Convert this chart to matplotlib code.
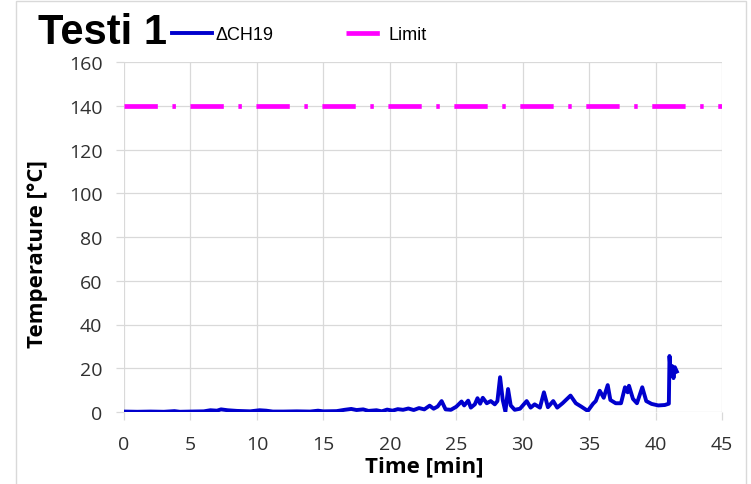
import matplotlib
matplotlib.use("Agg")
import matplotlib.pyplot as plt
from matplotlib.patches import Rectangle

plt.rcParams["font.family"] = ["Open Sans", "DejaVu Sans"]
plt.rcParams["lines.scale_dashes"] = False

time_min = [0.0, 1.0, 2.0, 3.0, 3.8, 4.2, 5.0, 6.0, 6.5, 7.0, 7.3, 7.8, 8.5, 9.5,
            10.2, 10.7, 11.2, 12.0, 13.0, 14.0, 14.6, 15.0, 16.0, 16.6, 17.1, 17.5,
            18.0, 18.4, 19.0, 19.4, 19.8, 20.2, 20.6, 21.0, 21.4, 21.8, 22.2, 22.6,
            23.0, 23.3, 23.6, 23.9, 24.2, 24.6, 25.0, 25.4, 25.6, 25.9, 26.1, 26.4,
            26.6, 26.8, 27.0, 27.3, 27.6, 27.9, 28.1, 28.3, 28.5, 28.7, 28.9, 29.1,
            29.4, 29.8, 30.3, 30.6, 30.9, 31.3, 31.6, 31.9, 32.3, 32.6, 33.0, 33.6,
            34.0, 34.4, 34.9, 35.3, 35.5, 35.8, 36.1, 36.4, 36.6, 37.0, 37.4, 37.7,
            37.9, 38.0, 38.3, 38.6, 39.0, 39.3, 39.7, 40.2, 40.7, 41.0, 41.05, 41.15,
            41.25, 41.35, 41.45, 41.6]
delta_ch19 = [0.2, 0.1, 0.2, 0.1, 0.4, 0.1, 0.2, 0.3, 0.8, 0.6, 1.2, 0.8, 0.5, 0.3,
              0.8, 0.6, 0.2, 0.2, 0.3, 0.2, 0.6, 0.3, 0.4, 1.0, 1.4, 0.9,
              1.2, 0.5, 0.8, 0.3, 1.1, 0.6, 1.3, 1.0, 1.6, 0.9, 1.8, 1.2,
              2.9, 1.5, 2.5, 5.0, 1.2, 1.0, 2.4, 4.8, 3.0, 5.2, 2.0, 3.5,
              6.3, 3.8, 6.5, 4.0, 5.0, 3.5, 5.0, 15.9, 5.5, 0.2, 10.5, 3.0,
              1.0, 1.5, 5.0, 2.0, 3.5, 2.0, 9.0, 2.2, 5.0, 2.0, 4.0, 7.5,
              4.0, 2.5, 0.5, 3.8, 5.0, 9.7, 6.5, 12.3, 5.5, 4.0, 4.0, 11.3,
              9.0, 12.0, 6.0, 4.0, 11.3, 5.0, 3.7, 3.0, 3.2, 3.8, 25.6, 17.0,
              21.0, 15.5, 20.5, 18.5]
limit_c = 140
x_ticks = [0, 5, 10, 15, 20, 25, 30, 35, 40, 45]
y_ticks = [0, 20, 40, 60, 80, 100, 120, 140, 160]

fig = plt.figure(figsize=(7.51, 4.85), dpi=100)
# chart frame: open at the bottom like the screenshot
fig.patches.append(Rectangle((16 / 751, -0.05), 730 / 751, 1.05 - 2 / 485,
                             transform=fig.transFigure, fill=False,
                             edgecolor="#D9D9D9", linewidth=1))
ax = fig.add_axes([124 / 751, 72 / 485, 598 / 751, 350 / 485])

ax.plot(time_min, delta_ch19, color="#0000CD", linewidth=2.8,
        solid_joinstyle="round", label="\u0394CH19", zorder=3)
ax.plot([x_ticks[0], x_ticks[-1]], [limit_c, limit_c], color="#FF00FF",
        linewidth=3.4, dashes=(24, 10.5, 2.5, 10.5), label="Limit", zorder=3)

ax.set_xlim(x_ticks[0], x_ticks[-1])
ax.set_ylim(y_ticks[0], y_ticks[-1])
ax.set_xticks(x_ticks)
ax.set_yticks(y_ticks)
ax.grid(True, color="#D9D9D9", linewidth=0.9)
ax.set_axisbelow(True)
for side in ("top", "right", "bottom", "left"):
    ax.spines[side].set_visible(False)
ax.tick_params(axis="both", length=5.5, width=0.9, color="#D9D9D9",
               labelsize=14, labelcolor="#303030")
ax.tick_params(axis="y", pad=10)
ax.tick_params(axis="x", pad=11)

ax.set_xlabel("Time [min]", fontsize=16, fontweight="bold", va="top")
ax.set_ylabel("Temperature [\u00b0C]", fontsize=16, fontweight="bold", va="center")
ax.xaxis.set_label_coords(0.502, -0.125)
ax.yaxis.set_label_coords(-0.144, 0.454)

fig.text(38 / 751, 1 - 33 / 485, "Testi 1", fontsize=30, fontweight="bold",
         family=["Liberation Sans", "DejaVu Sans"], va="center", ha="left")

ax.legend(loc="center left", bbox_to_anchor=(172 / 751, 1 - 36 / 485),
          bbox_transform=fig.transFigure, ncol=2, frameon=False,
          borderpad=0, borderaxespad=0, handlelength=2.2, columnspacing=4.0,
          handletextpad=0.2,
          prop={"family": ["Liberation Sans", "DejaVu Sans"], "size": 13})

fig.savefig("out.png", dpi=100)
